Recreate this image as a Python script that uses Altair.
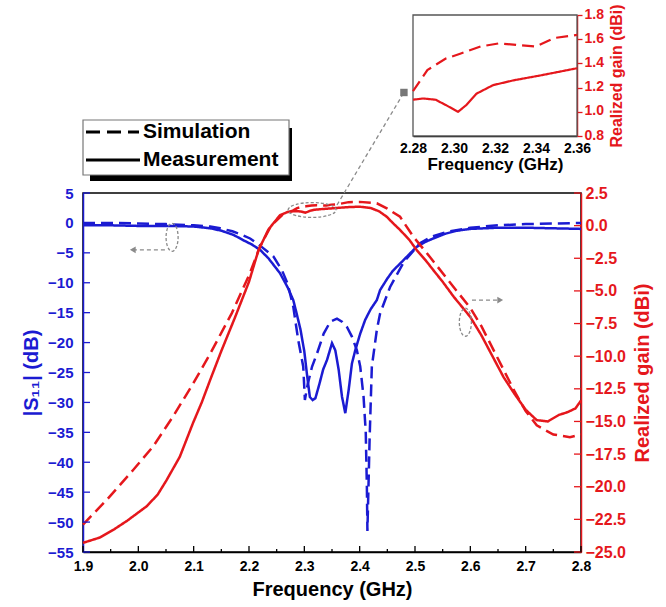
import altair as alt
import pandas as pd

# ---------------- data ----------------
series_names = ["Simulation", "Measurement"]

freq_s11_meas = [1.90, 1.95, 2.00, 2.05, 2.10, 2.13, 2.15, 2.172, 2.19, 2.205, 2.22, 2.235, 2.256,
                 2.27, 2.28, 2.286, 2.293, 2.30, 2.305, 2.31, 2.315, 2.32, 2.327, 2.334, 2.341,
                 2.35, 2.356, 2.362, 2.368, 2.374, 2.38, 2.386, 2.392, 2.401, 2.41, 2.42, 2.431,
                 2.437, 2.45, 2.46, 2.473, 2.49, 2.503, 2.518, 2.533, 2.555, 2.576, 2.60, 2.65,
                 2.70, 2.75, 2.80]
s11_meas = [-0.4, -0.4, -0.5, -0.5, -0.6, -0.9, -1.3, -2.0, -2.9, -3.6, -4.5, -5.9, -8.4,
            -10.8, -12.9, -15.1, -17.8, -21.5, -25.5, -29.1, -29.6, -29.3, -27.0, -24.5, -22.9,
            -20.1, -21.3, -24.5, -29.0, -31.8, -28.0, -23.5, -21.3, -18.5, -16.2, -14.4, -12.9,
            -11.2, -9.3, -8.0, -6.8, -5.2, -4.0, -3.2, -2.6, -1.8, -1.3, -1.0, -0.8,
            -0.8, -0.9, -1.0]

freq_s11_sim = [1.90, 1.95, 2.00, 2.05, 2.10, 2.13, 2.148, 2.17, 2.19, 2.202, 2.22, 2.244, 2.26,
                2.27, 2.28, 2.289, 2.298, 2.301, 2.306, 2.314, 2.323, 2.335, 2.347, 2.359, 2.368,
                2.377, 2.386, 2.395, 2.401, 2.407, 2.411, 2.413, 2.414, 2.418, 2.422, 2.431,
                2.437, 2.455, 2.48, 2.509, 2.53, 2.558, 2.60, 2.65, 2.70, 2.75, 2.80]
s11_sim = [0.0, 0.0, -0.1, -0.2, -0.4, -0.6, -0.9, -1.4, -2.1, -2.6, -3.8, -5.6, -8.0,
           -10.2, -14.0, -19.6, -24.0, -29.6, -27.0, -24.0, -21.8, -18.5, -16.5, -16.0, -16.5,
           -17.4, -19.0, -21.3, -24.0, -29.0, -35.0, -44.0, -51.5, -36.0, -24.0, -17.9,
           -15.1, -10.7, -6.5, -3.4, -2.3, -1.5, -0.8, -0.4, -0.2, -0.1, 0.0]

freq_gain_meas = [1.90, 1.93, 1.955, 1.98, 2.015, 2.035, 2.051, 2.075, 2.099, 2.115, 2.13, 2.15,
                  2.175, 2.20, 2.217, 2.235, 2.256, 2.27, 2.28, 2.29, 2.296, 2.302, 2.306, 2.311,
                  2.319, 2.329, 2.342, 2.36, 2.38, 2.40, 2.42, 2.435, 2.449, 2.46, 2.473, 2.49,
                  2.503, 2.52, 2.533, 2.55, 2.57, 2.60, 2.62, 2.64, 2.66, 2.68, 2.70, 2.72,
                  2.74, 2.76, 2.775, 2.79, 2.80]
gain_meas = [-24.3, -23.9, -23.3, -22.6, -21.5, -20.6, -19.5, -17.7, -15.1, -13.5, -11.8, -9.6,
             -7.0, -4.3, -1.9, -0.3, 0.8, 1.05, 1.10, 1.10, 1.06, 1.00, 1.06, 1.15,
             1.22, 1.26, 1.30, 1.36, 1.42, 1.45, 1.35, 1.10, 0.68, 0.20, -0.33, -1.1,
             -1.87, -2.7, -3.4, -4.3, -5.45, -7.0, -8.4, -10.0, -11.6, -12.9, -14.1, -14.9,
             -15.0, -14.5, -14.3, -14.0, -13.4]

freq_gain_sim = [1.90, 1.943, 1.991, 2.027, 2.063, 2.099, 2.13, 2.169, 2.20, 2.22, 2.24, 2.26,
                 2.28, 2.287, 2.296, 2.303, 2.313, 2.322, 2.332, 2.34, 2.349, 2.36, 2.38, 2.40,
                 2.431, 2.45, 2.473, 2.497, 2.527, 2.564, 2.60, 2.62, 2.65, 2.68, 2.70, 2.72,
                 2.75, 2.78, 2.80]
gain_sim = [-22.9, -21.0, -18.7, -16.9, -14.6, -12.1, -9.8, -6.7, -3.8, -1.6, 0.0, 0.8,
            1.17, 1.345, 1.44, 1.48, 1.54, 1.566, 1.55, 1.54, 1.61, 1.635, 1.80, 1.82,
            1.71, 1.30, 0.68, -0.85, -2.4, -4.4, -6.3, -7.7, -10.2, -12.7, -14.2, -15.3,
            -16.0, -16.2, -16.0]

# inset (zoom of the gain peak)
freq_inset_meas = [2.28, 2.285, 2.291, 2.296, 2.302, 2.306, 2.311, 2.319, 2.329, 2.342, 2.36]
gain_inset_meas = [1.10, 1.11, 1.10, 1.056, 1.00, 1.056, 1.15, 1.22, 1.26, 1.30, 1.36]
freq_inset_sim = [2.28, 2.287, 2.296, 2.303, 2.313, 2.322, 2.332, 2.34, 2.349, 2.36]
gain_inset_sim = [1.17, 1.345, 1.44, 1.48, 1.54, 1.566, 1.55, 1.54, 1.61, 1.635]

# tick labels
x_major = [1.9, 2.0, 2.1, 2.2, 2.3, 2.4, 2.5, 2.6, 2.7, 2.8]
x_minor = [1.95, 2.05, 2.15, 2.25, 2.35, 2.45, 2.55, 2.65, 2.75]
s11_ticks = [-55, -50, -45, -40, -35, -30, -25, -20, -15, -10, -5, 0, 5]
gain_ticks = [-25.0, -22.5, -20.0, -17.5, -15.0, -12.5, -10.0, -7.5, -5.0, -2.5, 0.0, 2.5]
inset_x_ticks = [2.28, 2.30, 2.32, 2.34, 2.36]
inset_y_ticks = [0.8, 1.0, 1.2, 1.4, 1.6, 1.8]

# annotation anchors (data units)
ann_top = {"f": [2.314], "g": [1.2]}
ann_conn = {"f0": [2.359], "g0": [1.58], "f1": [2.480], "g1": [10.2]}
ann_left = {"f": [2.061], "v": [-2.4], "f0": [2.048], "f1": [1.99], "va": [-4.5]}
ann_right = {"f": [2.591], "g": [-7.4], "f0": [2.603], "f1": [2.654], "ga": [-5.7]}

# ---------------- styling ----------------
FONT = "Liberation Sans"
BLUE = "#1b1bd2"
RED = "#e5171c"
GRAY = "#8a8a8a"
W, H = 498, 359

xs = alt.Scale(domain=[1.9, 2.8], nice=False, zero=False)
ys11 = alt.Scale(domain=[-55, 5], nice=False, zero=False)
ygain = alt.Scale(domain=[-25, 2.5], nice=False, zero=False)
xin = alt.Scale(domain=[2.28, 2.36], range=[330, 494], nice=False, zero=False)
yin = alt.Scale(domain=[0.8, 1.8], range=[-57, -178], nice=False, zero=False)
dash_scale = alt.Scale(domain=series_names, range=[[12, 6], [1, 0]])


def frame(fx, vy, kind):
    return pd.DataFrame({"f": fx, "v": vy, "kind": kind})


s11_df = pd.concat([frame(freq_s11_sim, s11_sim, series_names[0]),
                    frame(freq_s11_meas, s11_meas, series_names[1])])
gain_df = pd.concat([frame(freq_gain_sim, gain_sim, series_names[0]),
                     frame(freq_gain_meas, gain_meas, series_names[1])])
inset_df = pd.concat([frame(freq_inset_sim, gain_inset_sim, series_names[0]),
                      frame(freq_inset_meas, gain_inset_meas, series_names[1])])

x_axis = alt.Axis(
    orient="bottom", values=x_major, format=".1f", grid=False, labelOverlap=False, labelFlush=False,
    ticks=False, domainColor="black", domainWidth=1.5,
    labelPadding=7, labelColor="black", labelFontSize=14, labelFontWeight="bold", labelFont=FONT,
    title="Frequency (GHz)", titleFont=FONT, titleFontSize=20, titleFontWeight="bold",
    titleColor="black", titlePadding=6,
)
s11_axis = alt.Axis(
    orient="left", values=s11_ticks, format="d", grid=False, labelOverlap=False, labelFlush=False,
    ticks=False, domainColor=BLUE, domainWidth=1.5,
    labelPadding=10, labelColor=BLUE, labelFontSize=15, labelFontWeight="bold", labelFont=FONT,
    title="|S₁₁| (dB)", titleFont=FONT, titleFontSize=20, titleFontWeight="bold",
    titleColor=BLUE, titlePadding=6,
)
gain_axis = alt.Axis(
    orient="right", values=gain_ticks, format=".1f", grid=False, labelOverlap=False, labelFlush=False,
    ticks=False, domainColor=RED, domainWidth=1.5,
    labelPadding=4, labelColor=RED, labelFontSize=16, labelFontWeight="bold", labelFont=FONT,
    title="Realized gain (dBi)", titleAngle=270, titleBaseline="top", titleFont=FONT,
    titleFontSize=20, titleFontWeight="bold", titleColor=RED, titlePadding=7,
)
inset_x_axis = alt.Axis(
    orient="bottom", offset=-(H + 57), values=inset_x_ticks, format=".2f", grid=False,
    ticks=False, labelOverlap=False, labelFlush=False,
    domainColor="black", domainWidth=1.5, labelPadding=5, labelColor="black",
    labelFontSize=14, labelFontWeight="bold", labelFont=FONT,
    title="Frequency (GHz)", titleFont=FONT, titleFontSize=17, titleFontWeight="bold",
    titleColor="black", titlePadding=1,
)
inset_y_axis = alt.Axis(
    orient="right", offset=-4, values=inset_y_ticks, format=".1f", grid=False,
    labelOverlap=False, labelFlush=False,
    domainColor=RED, domainWidth=1.5, tickColor=RED, tickSize=5, tickWidth=1.3,
    labelPadding=2, labelColor=RED, labelFontSize=14, labelFontWeight="bold", labelFont=FONT,
    labelBaseline="bottom", labelOffset=6,
    title="Realized gain (dBi)", titleAngle=270, titleBaseline="top", titleFont=FONT,
    titleFontSize=16, titleFontWeight="bold", titleColor=RED, titlePadding=5,
)

# ---------------- inward tick marks ----------------
left_ticks = alt.Chart(pd.DataFrame({"t": s11_ticks})).mark_rule(color=BLUE, strokeWidth=1.3).encode(
    y=alt.Y("t:Q", scale=ys11, axis=None), x=alt.value(0), x2=alt.value(7))
right_ticks = alt.Chart(pd.DataFrame({"t": gain_ticks})).mark_rule(color=RED, strokeWidth=1.3).encode(
    y=alt.Y("t:Q", scale=ygain, axis=None), x=alt.value(W - 7), x2=alt.value(W))
bottom_major = alt.Chart(pd.DataFrame({"t": x_major})).mark_rule(color="black", strokeWidth=1.3).encode(
    x=alt.X("t:Q", scale=xs, axis=None), y=alt.value(H - 6), y2=alt.value(H))
bottom_minor = alt.Chart(pd.DataFrame({"t": x_minor})).mark_rule(color="black", strokeWidth=1.3).encode(
    x=alt.X("t:Q", scale=xs, axis=None), y=alt.value(H - 3), y2=alt.value(H))

# ---------------- main curves ----------------
s11_layer = alt.Chart(s11_df).mark_line(color=BLUE, strokeWidth=2.5).encode(
    x=alt.X("f:Q", scale=xs, axis=x_axis),
    y=alt.Y("v:Q", scale=ys11, axis=s11_axis),
    strokeDash=alt.StrokeDash("kind:N", scale=dash_scale, legend=None),
)
gain_layer = alt.Chart(gain_df).mark_line(color=RED, strokeWidth=2.5).encode(
    x=alt.X("f:Q", scale=xs, axis=None),
    y=alt.Y("v:Q", scale=ygain, axis=gain_axis),
    strokeDash=alt.StrokeDash("kind:N", scale=dash_scale, legend=None),
)

# ---------------- inset ----------------
box_df = pd.DataFrame({"x0": [inset_x_ticks[0]], "x1": [inset_x_ticks[-1]],
                       "y0": [inset_y_ticks[0]], "y1": [inset_y_ticks[-1]]})
inset_box = alt.Chart(box_df).mark_rect(fill="white", stroke="#555555", strokeWidth=1.3).encode(
    x=alt.X("x0:Q", scale=xin, axis=None), x2="x1:Q",
    y=alt.Y("y0:Q", scale=yin, axis=None), y2="y1:Q",
)
inset_lines = alt.Chart(inset_df).mark_line(color=RED, strokeWidth=2.2).encode(
    x=alt.X("f:Q", scale=xin, axis=inset_x_axis),
    y=alt.Y("v:Q", scale=yin, axis=inset_y_axis),
    strokeDash=alt.StrokeDash("kind:N", scale=dash_scale, legend=None),
)

# ---------------- annotations ----------------
ELL_H = "M -1 0 A 1 0.31 0 1 1 1 0 A 1 0.31 0 1 1 -1 0 Z"
ELL_V = "M 0 -1 A 0.43 1 0 1 1 0 1 A 0.43 1 0 1 1 0 -1 Z"

top_ell = alt.Chart(pd.DataFrame(ann_top)).mark_point(
    shape=ELL_H, size=2304, filled=False, stroke=GRAY, strokeWidth=1.3, strokeDash=[3, 2], opacity=1
).encode(x=alt.X("f:Q", scale=xs, axis=None), y=alt.Y("g:Q", scale=ygain, axis=None))

conn = alt.Chart(pd.DataFrame(ann_conn)).mark_rule(
    color=GRAY, strokeWidth=1.3, strokeDash=[4, 3]
).encode(x=alt.X("f0:Q", scale=xs, axis=None), x2="f1:Q",
         y=alt.Y("g0:Q", scale=ygain, axis=None), y2="g1:Q")
conn_sq = alt.Chart(pd.DataFrame(ann_conn)).mark_point(
    shape="square", filled=True, color="#777777", size=55, opacity=1
).encode(x=alt.X("f1:Q", scale=xs, axis=None), y=alt.Y("g1:Q", scale=ygain, axis=None))

left_ell = alt.Chart(pd.DataFrame(ann_left)).mark_point(
    shape=ELL_V, size=784, filled=False, stroke=GRAY, strokeWidth=1.3, strokeDash=[3, 2], opacity=1
).encode(x=alt.X("f:Q", scale=xs, axis=None), y=alt.Y("v:Q", scale=ys11, axis=None))
left_arr = alt.Chart(pd.DataFrame(ann_left)).mark_rule(
    color=GRAY, strokeWidth=1.3, strokeDash=[4, 3]
).encode(x=alt.X("f0:Q", scale=xs, axis=None), x2="f1:Q",
         y=alt.Y("va:Q", scale=ys11, axis=None))
left_head = alt.Chart(pd.DataFrame(ann_left)).mark_point(
    shape="triangle-left", filled=True, color=GRAY, size=45, opacity=1
).encode(x=alt.X("f1:Q", scale=xs, axis=None), y=alt.Y("va:Q", scale=ys11, axis=None))

right_ell = alt.Chart(pd.DataFrame(ann_right)).mark_point(
    shape=ELL_V, size=784, filled=False, stroke=GRAY, strokeWidth=1.3, strokeDash=[3, 2], opacity=1
).encode(x=alt.X("f:Q", scale=xs, axis=None), y=alt.Y("g:Q", scale=ygain, axis=None))
right_arr = alt.Chart(pd.DataFrame(ann_right)).mark_rule(
    color=GRAY, strokeWidth=1.3, strokeDash=[4, 3]
).encode(x=alt.X("f0:Q", scale=xs, axis=None), x2="f1:Q",
         y=alt.Y("ga:Q", scale=ygain, axis=None))
right_head = alt.Chart(pd.DataFrame(ann_right)).mark_point(
    shape="triangle-right", filled=True, color=GRAY, size=45, opacity=1
).encode(x=alt.X("f1:Q", scale=xs, axis=None), y=alt.Y("ga:Q", scale=ygain, axis=None))

# ---------------- legend (drawn box with shadow) ----------------
one = pd.DataFrame({"a": [0]})
leg_shadow = alt.Chart(one).mark_rect(fill="black").encode(
    x=alt.value(7), x2=alt.value(209), y=alt.value(-65), y2=alt.value(-12))
leg_box = alt.Chart(one).mark_rect(fill="white", stroke="#777777", strokeWidth=1.2).encode(
    x=alt.value(0), x2=alt.value(206), y=alt.value(-73), y2=alt.value(-18))
leg_sim_line = alt.Chart(one).mark_rule(color="black", strokeWidth=3, strokeDash=[14, 7]).encode(
    x=alt.value(3), x2=alt.value(56), y=alt.value(-61))
leg_meas_line = alt.Chart(one).mark_rule(color="black", strokeWidth=3).encode(
    x=alt.value(3), x2=alt.value(57), y=alt.value(-33))
leg_txt = pd.DataFrame({"label": series_names})
leg_sim_txt = alt.Chart(leg_txt).transform_filter(
    alt.datum.label == series_names[0]
).mark_text(align="left", baseline="middle", font=FONT, fontSize=21, fontWeight="bold",
            color="black").encode(x=alt.value(60), y=alt.value(-61), text="label:N")
leg_meas_txt = alt.Chart(leg_txt).transform_filter(
    alt.datum.label == series_names[1]
).mark_text(align="left", baseline="middle", font=FONT, fontSize=21, fontWeight="bold",
            color="black").encode(x=alt.value(60), y=alt.value(-33), text="label:N")

chart = alt.layer(
    s11_layer, gain_layer,
    left_ticks, right_ticks, bottom_major, bottom_minor,
    top_ell, conn, conn_sq, left_ell, left_arr, left_head, right_ell, right_arr, right_head,
    inset_box, inset_lines,
    leg_shadow, leg_box, leg_sim_line, leg_meas_line, leg_sim_txt, leg_meas_txt,
).resolve_scale(
    x="independent", y="independent", strokeDash="independent"
).properties(
    width=W, height=H,
    autosize=alt.AutoSizeParams(type="none"),
    padding={"left": 83, "top": 193, "right": 85, "bottom": 55},
    background="white",
).configure_view(stroke="black", strokeWidth=1.5)

chart.save("out.html", embed_options={"renderer": "svg", "actions": False})
